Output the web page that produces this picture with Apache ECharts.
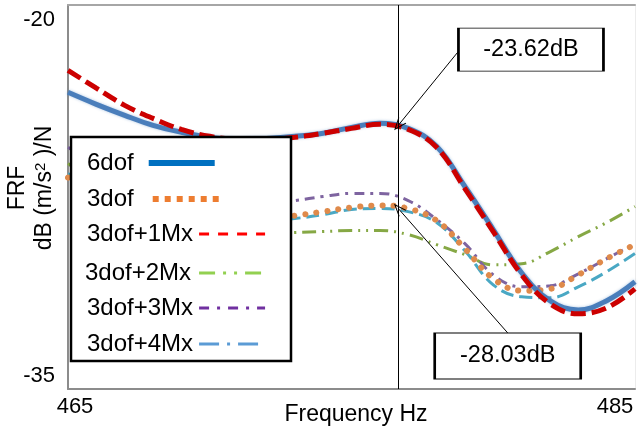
<!DOCTYPE html>
<html>
<head>
<meta charset="utf-8">
<script src="https://cdn.jsdelivr.net/npm/echarts@6/dist/echarts.min.js"></script>
<style>
  html, body { margin: 0; padding: 0; background: #fff; }
  #frfChart { width: 640px; height: 430px; }
</style>
</head>
<body>
<div id="frfChart"></div>
<script>
// frequency (Hz)
const freqs = [465, 466, 467, 468, 469, 470, 471, 472, 473, 474, 475,
  476, 477, 478, 479, 480, 481, 482, 483, 484, 485]

// FRF dB (m/s^2)/N
const frf6dof = [-23.41, -23.88, -24.31, -24.70, -24.97, -25.17, -25.25, -25.21, -25.13, -25.01, -24.78,
  -24.62, -24.82, -25.52, -27.09, -28.77, -30.46, -31.55, -31.91, -31.55, -30.81]
const frf3dof = [-26.74, -27.25, -27.64, -27.95, -28.19, -28.34, -28.38, -28.34, -28.23, -28.07, -27.91,
  -27.83, -27.95, -28.42, -29.52, -30.69, -31.16, -31.09, -30.54, -29.91, -29.36]
const frf1Mx = [-22.55, -23.25, -23.92, -24.43, -24.86, -25.13, -25.25, -25.25, -25.17, -25.01, -24.82,
  -24.66, -24.86, -25.56, -27.17, -28.85, -30.54, -31.67, -32.06, -31.83, -31.09]
const frf2Mx = [-26.19, -27.05, -27.76, -28.26, -28.62, -28.81, -28.93, -28.93, -28.89, -28.85, -28.81,
  -28.81, -28.97, -29.36, -29.75, -30.15, -30.11, -29.64, -29.05, -28.50, -27.87]
const frf3Mx = [-25.56, -26.27, -26.85, -27.32, -27.64, -27.79, -27.83, -27.76, -27.64, -27.48, -27.36,
  -27.36, -27.64, -28.38, -29.32, -30.54, -31.01, -30.97, -30.50, -29.91, -29.32]
const frf4Mx = [-26.58, -27.17, -27.60, -27.95, -28.23, -28.38, -28.46, -28.42, -28.34, -28.19, -27.99,
  -27.95, -28.07, -28.50, -29.60, -30.93, -31.40, -31.44, -31.01, -30.42, -29.71]

// axis ticks
const xTicks = [465, 485]
const yTicks = [-35, -20]

// cursor line and read-out values
const cursorFreq = 476.65
const readOut = ['-23.62dB', '-28.03dB']
const readOutAt = [-24.70, -27.95]
const boxAt = [[481.33, -21.74], [480.51, -33.71]]
const arrowFrom = [[478.75, -21.84], [480.51, -32.81]]

const FONT = 'Liberation Sans, Arial, sans-serif'
const arrowHead = 'path://M5,0L10,12L9,12L5,2.5L1,12L0,12Z'

function pairs (ys) {
  return freqs.map((f, i) => [f, ys[i]])
}

function lineSeries (name, ys, color, width, type, extra) {
  return Object.assign({
    name: name,
    type: 'line',
    data: pairs(ys),
    smooth: 0.4,
    symbol: 'none',
    showSymbol: false,
    lineStyle: { color: color, width: width, type: type },
    itemStyle: { color: color },
    emphasis: { disabled: true }
  }, extra || {})
}

// legend entries (each one is its own legend so the icons follow the text)
const legendRows = [
  { name: '6dof', top: 151, left: 87, pad: 10, line: { color: '#0070c0', width: 6, type: 'solid' } },
  { name: '3dof', top: 187, left: 87, pad: 14, line: { color: '#ed7d31', width: 6, type: [6, 6] } },
  { name: '3dof+1Mx', top: 222, left: 87, pad: 1, line: { color: '#ff0000', width: 3, type: [10, 9] } },
  { name: '3dof+2Mx', top: 261, left: 85, pad: 3, line: { color: '#92d050', width: 3, type: [16, 8, 3, 8, 3, 8] } },
  { name: '3dof+3Mx', top: 296, left: 87, pad: 1, line: { color: '#7030a0', width: 3, type: [10, 8, 3, 8] } },
  { name: '3dof+4Mx', top: 332, left: 87, pad: 1, line: { color: '#5b9bd5', width: 3, type: [20, 8, 3, 8] } }
]

const legends = legendRows.map(r => ({
  show: true,
  orient: 'vertical',
  left: r.left,
  top: r.top,
  padding: 0,
  z: 6,
  align: 'right',
  itemWidth: 66,
  itemHeight: 14,
  selectedMode: false,
  textStyle: { fontSize: 24, fontFamily: FONT, color: '#000', padding: [0, r.pad, 0, 0] },
  data: [{
    name: r.name,
    lineStyle: Object.assign({ cap: 'butt', shadowBlur: 0 }, r.line),
    itemStyle: { color: 'rgba(0,0,0,0)', borderWidth: 0, opacity: 0 }
  }]
}))

const chart = echarts.init(document.getElementById('frfChart'))

const option = {
  animation: false,
  backgroundColor: '#fff',
  grid: { left: 68, right: 5, top: 5, bottom: 41, containLabel: false, outerBoundsMode: 'none' },
  legend: legends,
  xAxis: [{
    type: 'value',
    min: xTicks[0],
    max: xTicks[1],
    interval: xTicks[1] - xTicks[0],
    name: 'Frequency Hz',
    nameLocation: 'middle',
    nameGap: 14,
    nameMoveOverlap: false,
    nameTextStyle: { fontSize: 23, fontFamily: FONT, color: '#000', padding: [0, 0, 0, 9] },
    axisLine: { lineStyle: { color: '#8c8c8c', width: 2 } },
    axisTick: { show: false },
    splitLine: { show: false },
    axisLabel: {
      showMinLabel: true,
      showMaxLabel: true,
      margin: 7,
      formatter: v => (v === xTicks[0] ? '{l|' + v + '}' : '{r|' + v + '}'),
      rich: {
        l: { fontSize: 22, fontFamily: FONT, color: '#000', padding: [0, 0, 0, 14] },
        r: { fontSize: 22, fontFamily: FONT, color: '#000', padding: [0, 40, 0, 0] }
      }
    }
  }, {
    type: 'value',
    position: 'top',
    min: xTicks[0],
    max: xTicks[1],
    axisLine: { show: true, lineStyle: { color: '#a6a6a6', width: 2 } },
    axisTick: { show: false },
    axisLabel: { show: false },
    splitLine: { show: false }
  }],
  yAxis: [{
    type: 'value',
    min: yTicks[0],
    max: yTicks[1],
    interval: yTicks[1] - yTicks[0],
    axisLine: { show: true, lineStyle: { color: '#8c8c8c', width: 2 } },
    axisTick: { show: false },
    splitLine: { show: false },
    axisLabel: {
      showMinLabel: true,
      showMaxLabel: true,
      margin: 13,
      formatter: v => (v === yTicks[1] ? '{t|' + v + '}' : '{b|' + v + '}'),
      rich: {
        t: { fontSize: 22, fontFamily: FONT, color: '#000', padding: [30, 0, 0, 0] },
        b: { fontSize: 22, fontFamily: FONT, color: '#000', padding: [0, 0, 26, 0] }
      }
    }
  }, {
    type: 'value',
    position: 'right',
    min: yTicks[0],
    max: yTicks[1],
    axisLine: { show: true, lineStyle: { color: '#ececec', width: 1 } },
    axisTick: { show: false },
    axisLabel: { show: false },
    splitLine: { show: false }
  }],
  graphic: [
    {
      type: 'rect',
      z: 5,
      shape: { x: 71, y: 137, width: 220, height: 224 },
      style: { fill: '#fff', stroke: '#000', lineWidth: 2.5 }
    },
    {
      type: 'text',
      x: 18,
      y: 188,
      rotation: Math.PI / 2,
      style: { text: 'FRF', fontSize: 23, fontFamily: FONT, fill: '#000', align: 'center', verticalAlign: 'middle' }
    },
    {
      type: 'text',
      x: 45,
      y: 188,
      rotation: Math.PI / 2,
      style: {
        text: 'dB (m/s{s|2} )/N',
        fontSize: 23,
        fontFamily: FONT,
        fill: '#000',
        align: 'center',
        verticalAlign: 'middle',
        rich: { s: { fontSize: 15, fontFamily: FONT, fill: '#000', verticalAlign: 'top' } }
      }
    }
  ],
  series: [
    lineSeries('3dof+2Mx', frf2Mx, '#86a845', 3, [14, 6, 2, 6, 2, 6]),
    lineSeries('3dof+3Mx', frf3Mx, '#7e64a0', 3, [10, 6, 3, 6]),
    lineSeries('3dof+4Mx', frf4Mx, '#4aa8c4', 3, [13, 6]),
    lineSeries('3dof', frf3dof, '#df8a4b', 6, [0.1, 11], {
      lineStyle: { color: '#df8a4b', width: 6, type: [0.1, 11], cap: 'round' }
    }),
    lineSeries('6dof', frf6dof, '#4a7ebb', 5, 'solid', {
      lineStyle: { color: '#4a7ebb', width: 5, shadowColor: 'rgba(74,126,187,0.45)', shadowBlur: 3 },
      markLine: {
        silent: true,
        symbol: ['none', 'none'],
        label: { show: false },
        lineStyle: { color: '#000', width: 1, type: 'solid', shadowBlur: 0 },
        data: [
          { xAxis: cursorFreq },
          [
            { coord: arrowFrom[0] },
            { coord: [cursorFreq, readOutAt[0]], symbol: arrowHead, symbolSize: [10, 13] }
          ],
          [
            { coord: arrowFrom[1] },
            { coord: [cursorFreq, readOutAt[1]], symbol: arrowHead, symbolSize: [10, 13] }
          ]
        ]
      },
      markPoint: {
        silent: true,
        symbol: 'rect',
        itemStyle: { color: '#fff', borderColor: '#000', borderWidth: 1.5 },
        label: {
          show: true,
          position: 'inside',
          formatter: '{b}',
          color: '#000',
          fontSize: 23.5,
          fontFamily: FONT
        },
        data: [
          { name: readOut[0], coord: boxAt[0], symbolSize: [145, 43] },
          { name: readOut[1], coord: boxAt[1], symbolSize: [146, 46] }
        ]
      }
    }),
    lineSeries('3dof+1Mx', frf1Mx, '#cc0000', 5, [15, 6])
  ]
}

chart.setOption(option)
</script>
</body>
</html>
